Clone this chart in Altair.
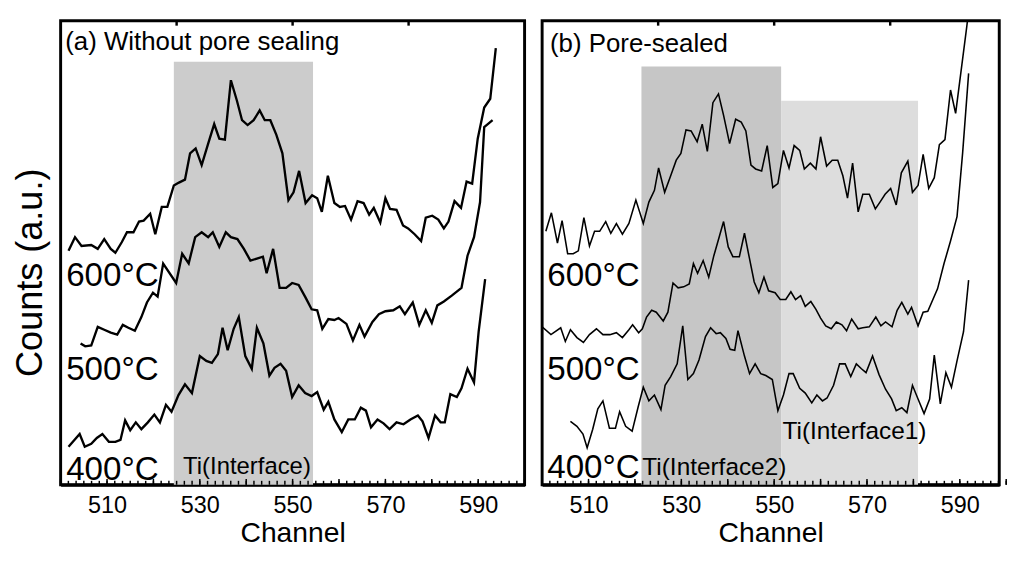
import altair as alt
import pandas as pd
import numpy as np

# ---------------- data (channel, counts in a.u.) ----------------
a600_ch = [501.7,503.1,504.5,506.6,508.0,509.4,510.8,511.8,513.2,514.3,515.7,516.9,517.9,519.3,520.4,521.8,523.0,524.4,525.5,526.8,527.9,529.1,530.4,531.8,533.1,534.2,535.4,536.7,538.0,539.1,540.3,541.6,542.9,544.0,545.2,546.5,547.8,549.1,550.2,551.4,552.8,554.2,555.3,556.3,557.6,559.0,560.2,561.3,562.6,564.0,565.3,566.5,567.5,568.9,570.0,571.0,572.4,573.8,574.9,576.3,577.7,578.7,580.1,581.4,582.6,583.6,584.9,586.3,587.5,588.7,589.9,591.3,592.6,593.8]
a600_ct = [240,254,245,246,242,252,242,238,249,259,259,270,271,278,257,285,285,307,310,313,340,345,328,350,370,355,354,415,394,374,369,374,384,374,374,359,340,292,300,322,289,297,294,280,317,289,285,286,272,291,289,277,284,269,294,283,282,266,263,257,250,274,276,272,263,270,291,284,311,309,355,387,396,448]

a500_ch = [504.3,505.3,506.6,508.0,509.4,510.8,512.2,513.4,514.6,516.0,517.4,518.6,519.9,520.9,522.1,524.9,526.2,527.6,529.0,530.4,531.8,532.8,534.2,535.6,536.7,538.1,539.5,540.9,542.3,543.6,544.4,545.8,547.2,548.6,549.9,551.3,552.8,554.1,555.3,556.4,557.7,559.0,559.9,561.6,563.0,564.4,565.5,567.2,568.6,570.0,571.7,573.1,574.2,575.9,577.3,578.7,580.0,581.2,582.6,584.3,586.4,587.7,589.1,590.4,591.3,593.1]
a500_ct = [145,142,143,162,159,156,154,164,161,158,172,187,197,193,227,207,237,227,254,259,254,259,244,259,254,252,242,230,232,234,217,242,202,202,207,205,192,180,179,160,170,169,171,165,148,164,152,167,175,178,179,183,175,187,164,179,166,184,188,194,202,235,254,290,367,374]

a400_ch = [501.7,504.1,505.2,506.6,507.8,509.0,510.4,511.8,512.9,513.9,515.0,516.2,517.4,518.8,520.2,521.4,522.7,523.9,525.4,526.8,528.3,530.0,531.4,532.6,533.9,534.9,536.0,537.3,538.4,539.8,541.2,542.3,543.7,545.0,546.1,547.4,548.6,549.9,551.3,552.7,554.1,555.3,556.7,557.7,559.0,560.6,562.0,563.4,564.7,565.8,566.9,568.3,569.6,570.9,572.4,573.9,575.4,577.0,578.0,579.3,580.7,581.9,582.8,584.0,585.4,586.4,587.7,589.1,590.1,591.5]
a400_ct = [39,52,39,42,48,52,44,44,46,66,56,64,57,64,72,64,82,75,92,103,94,132,127,125,134,161,138,160,172,132,119,161,145,112,120,124,117,90,102,94,91,95,77,85,67,54,67,67,79,76,59,67,63,57,64,62,67,71,65,48,71,64,64,93,90,99,119,105,157,211]

b600_ch = [500.8,502.0,503.3,504.3,505.5,506.7,507.8,509.0,510.2,511.3,512.4,513.7,514.8,516.0,517.3,518.7,520.2,521.8,523.0,524.2,525.1,526.4,527.7,528.9,529.9,531.0,532.1,533.4,534.5,535.6,536.8,538.0,539.1,540.4,541.7,542.9,543.9,545.0,546.0,547.3,548.5,549.7,550.8,552.0,553.2,554.3,555.5,556.5,557.8,559.0,560.0,561.3,562.5,563.7,564.8,565.8,566.9,568.1,569.1,570.5,571.8,572.8,573.9,575.1,576.3,577.4,578.8,579.8,581.0,582.1,583.3,584.5,585.6,586.8,588.0,589.1,591.5,592.5]
b600_ct = [260,279,248,271,237,237,240,274,245,260,260,270,258,268,257,268,292,268,290,302,325,300,317,333,340,364,363,352,370,342,392,401,379,350,375,372,363,328,324,322,348,305,309,343,325,348,343,324,330,324,357,327,333,333,317,294,330,280,298,298,283,290,298,304,287,320,332,300,307,339,304,315,349,354,405,381,470,510]

b500_ch = [500.0,501.9,504.0,505.0,506.1,507.5,508.9,510.2,511.7,513.1,514.6,516.0,517.3,518.7,519.5,520.8,521.6,522.5,523.6,524.6,526.1,527.1,528.2,529.3,530.5,531.7,532.6,533.5,534.7,535.9,537.0,538.2,539.1,540.1,541.1,542.5,543.6,544.6,545.7,546.7,547.8,548.8,550.2,551.3,552.5,553.6,554.6,555.7,556.7,557.9,559.0,560.0,561.1,562.3,563.4,564.6,565.6,566.7,568.1,569.1,570.5,571.9,573.0,574.0,575.4,576.5,577.5,578.8,579.6,581.0,582.1,583.1,585.2,586.6,588.0,589.4,590.6,591.9]
b500_ct = [162,154,161,147,159,151,146,154,160,154,154,156,151,159,164,156,160,172,179,177,168,177,207,202,203,206,227,217,230,213,235,255,270,244,234,234,258,234,208,197,213,199,197,190,190,198,190,194,183,188,180,171,163,160,167,164,158,170,160,161,162,172,163,167,162,179,187,175,182,163,177,178,201,227,250,275,340,422]

b400_ch = [506.1,507.5,508.8,509.7,510.9,512.0,513.1,514.5,515.8,516.7,518.0,519.4,520.7,521.8,523.0,524.2,525.6,526.5,527.7,529.1,530.3,531.4,532.6,533.8,535.2,536.3,537.5,538.4,539.6,540.5,541.5,542.2,543.6,544.7,545.9,547.1,548.2,549.6,550.8,552.0,553.2,554.1,555.5,556.7,558.1,559.2,560.4,561.4,562.8,564.1,565.3,566.5,567.7,568.8,569.8,571.2,572.6,574.0,575.3,576.3,577.5,578.6,579.8,581.0,582.3,583.5,584.5,585.8,587.0,588.2,589.4,590.8,591.9]
b400_ct = [65,60,52,38,57,78,86,58,58,75,60,55,80,100,86,92,77,102,111,124,163,108,114,128,152,161,155,156,150,139,138,158,132,114,124,114,112,108,76,92,114,114,99,94,84,92,86,89,102,124,124,111,124,119,115,132,113,98,88,76,79,74,102,88,73,88,133,83,115,100,127,157,210]

# shaded regions: start, end, top, fill
rect_a = pd.DataFrame({"channel": [524.4], "channel2": [554.4], "counts": [434], "counts2": [0], "fill": ["#cccccc"]})
rect_b = pd.DataFrame({"channel": [521.4, 551.5], "channel2": [551.5, 581.0], "counts": [429, 394], "counts2": [0, 0], "fill": ["#c6c6c6", "#dddddd"]})

# annotations
text_a = pd.DataFrame({
    "channel": [501.0, 501.2, 501.2, 501.2, 526.4],
    "counts": [446, 204, 107, 5, 11],
    "label": ["(a) Without pore sealing", "600°C", "500°C", "400°C", "Ti(Interface)"],
    "size": [26.5, 34, 34, 34, 24.5],
})
text_b = pd.DataFrame({
    "channel": [501.7, 501.1, 501.1, 501.1, 521.6, 551.8],
    "counts": [444, 204, 107, 7, 10, 47],
    "label": ["(b) Pore-sealed", "600°C", "500°C", "400°C", "Ti(Interface2)", "Ti(Interface1)"],
    "size": [26.5, 34, 34, 34, 25, 25],
})

tick_labels = [510, 530, 550, 570, 590]
major_ticks = [500, 510, 520, 530, 540, 550, 560, 570, 580, 590, 600]
minor_ticks = [round(v, 3) for v in np.arange(500, 600.01, 10 / 6)]
top_ticks = [525, 550, 575]

H = 476
FONT = "Liberation Sans"


def lines_df(specs):
    rows = []
    for name, ch, ct in specs:
        for c, v in zip(ch, ct):
            rows.append({"channel": c, "counts": v, "series": name})
    return pd.DataFrame(rows)


def panel(specs, rects, texts, dom, width, ytitle, sw):
    xs = alt.Scale(domain=dom, nice=False, zero=False)
    ys = alt.Scale(domain=[0, H], nice=False, zero=False)
    xaxis = alt.Axis(values=tick_labels, title="Channel", ticks=False, grid=False,
                     labelFont=FONT, labelFontSize=24, labelPadding=9, labelColor="black",
                     titleFont=FONT, titleFontSize=29, titleFontWeight="normal", titleColor="black",
                     titlePadding=2, domainColor="black", domainWidth=3, labelFlush=False)
    if ytitle:
        yaxis = alt.Axis(title=ytitle, labels=False, ticks=False, domain=False, grid=False,
                         titleFont=FONT, titleFontSize=37, titleY=258,
                         titleFontWeight="normal", titleColor="black", titlePadding=12)
    else:
        yaxis = None
    X = alt.X("channel:Q", scale=xs, axis=xaxis)
    Y = alt.Y("counts:Q", scale=ys, axis=yaxis)

    r = alt.Chart(rects).mark_rect().encode(
        x=X, x2="channel2:Q", y=Y, y2="counts2:Q", fill=alt.Fill("fill:N", scale=None))
    ln = alt.Chart(lines_df(specs)).mark_line(color="black", strokeWidth=sw, clip=True,
                                             strokeJoin="miter").encode(
        x=X, y=Y, detail="series:N")
    tx = alt.Chart(texts).mark_text(align="left", baseline="alphabetic", font=FONT,
                                    color="black").encode(
        x=X, y=Y, text="label:N", size=alt.Size("size:Q", scale=None))
    mn = alt.Chart(pd.DataFrame({"channel": minor_ticks})).mark_rule(
        color="black", strokeWidth=1.5).encode(x=X, y=alt.value(H), y2=alt.value(H - 4))
    mj = alt.Chart(pd.DataFrame({"channel": major_ticks})).mark_rule(
        color="black", strokeWidth=1.5).encode(x=X, y=alt.value(H), y2=alt.value(H - 6))
    tp = alt.Chart(pd.DataFrame({"channel": top_ticks})).mark_rule(
        color="black", strokeWidth=2.5).encode(x=X, y=alt.value(0), y2=alt.value(5))
    return alt.layer(r, ln, tx, mn, mj, tp).properties(width=width, height=H)


pa = panel([("600", a600_ch, a600_ct), ("500", a500_ch, a500_ct), ("400", a400_ch, a400_ct)],
           rect_a, text_a, [500, 600], 476, "Counts (a.u.)", 2.4)
pb = panel([("600", b600_ch, b600_ct), ("500", b500_ch, b500_ct), ("400", b400_ch, b400_ct)],
           rect_b, text_b, [500, 598.5], 469, None, 1.6)

chart = alt.hconcat(pa, pb, spacing=12).properties(
    padding={"left": 2, "top": 3, "right": 0, "bottom": 0}
).configure_view(stroke="black", strokeWidth=3)

chart.save("out.html", embed_options={"renderer": "svg", "actions": False})
